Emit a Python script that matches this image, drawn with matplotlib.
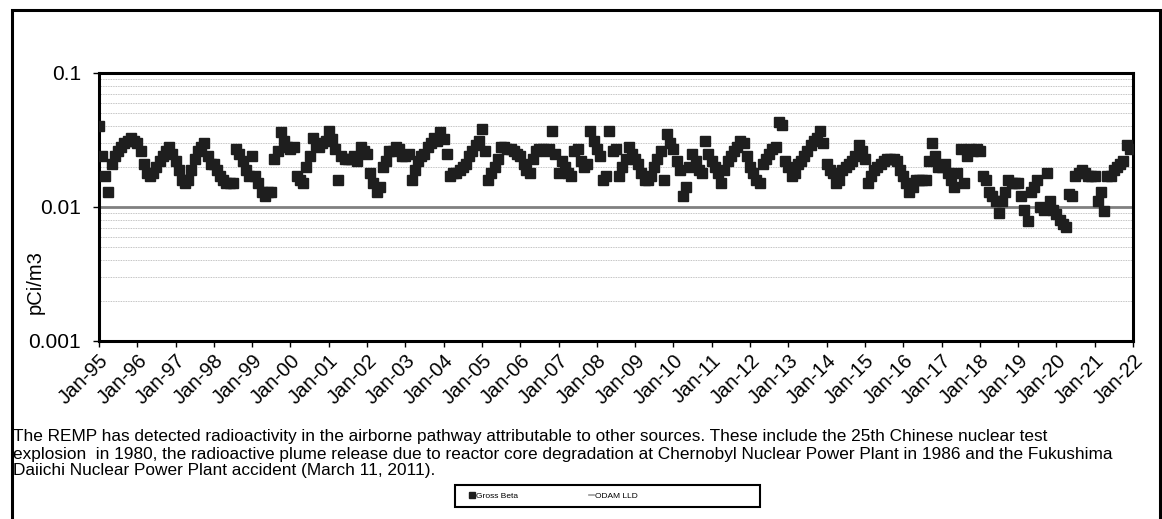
import numpy as np
import pandas as pd
import matplotlib
matplotlib.use('Agg')
import matplotlib.pyplot as plt
import matplotlib.dates as mdates
from matplotlib.ticker import LogLocator, FixedLocator, FuncFormatter
from matplotlib.lines import Line2D
from matplotlib.patches import Rectangle

plt.rcParams['font.family'] = ['Liberation Sans', 'DejaVu Sans']

# monthly gross beta (pCi/m3), Jan-1995 .. Dec-2021
y1995 = [0.040, 0.024, 0.017, 0.013, 0.021, 0.024, 0.026, 0.028, 0.030, 0.031, 0.033, 0.031]
y1996 = [0.030, 0.026, 0.021, 0.018, 0.017, 0.018, 0.020, 0.022, 0.024, 0.026, 0.028, 0.025]
y1997 = [0.022, 0.019, 0.016, 0.015, 0.016, 0.019, 0.023, 0.026, 0.028, 0.030, 0.024, 0.021]
y1998 = [0.021, 0.019, 0.017, 0.016, 0.015, 0.015, 0.015, 0.027, 0.025, 0.022, 0.019, 0.017]
y1999 = [0.024, 0.017, 0.015, 0.013, 0.012, 0.013, 0.013, 0.023, 0.026, 0.036, 0.031, 0.028]
y2000 = [0.027, 0.028, 0.017, 0.016, 0.015, 0.020, 0.024, 0.033, 0.029, 0.028, 0.030, 0.031]
y2001 = [0.037, 0.032, 0.027, 0.016, 0.024, 0.023, 0.023, 0.023, 0.024, 0.022, 0.028, 0.026]
y2002 = [0.025, 0.018, 0.015, 0.013, 0.014, 0.020, 0.022, 0.026, 0.026, 0.028, 0.027, 0.024]
y2003 = [0.024, 0.025, 0.016, 0.019, 0.022, 0.024, 0.025, 0.028, 0.030, 0.033, 0.031, 0.036]
y2004 = [0.032, 0.025, 0.017, 0.018, 0.018, 0.019, 0.020, 0.021, 0.024, 0.026, 0.029, 0.031]
y2005 = [0.038, 0.026, 0.016, 0.018, 0.020, 0.023, 0.028, 0.028, 0.027, 0.027, 0.026, 0.025]
y2006 = [0.024, 0.021, 0.019, 0.018, 0.023, 0.026, 0.027, 0.027, 0.026, 0.027, 0.037, 0.025]
y2007 = [0.018, 0.022, 0.020, 0.018, 0.017, 0.026, 0.027, 0.022, 0.020, 0.021, 0.037, 0.031]
y2008 = [0.027, 0.024, 0.016, 0.017, 0.037, 0.026, 0.027, 0.017, 0.020, 0.023, 0.028, 0.025]
y2009 = [0.023, 0.021, 0.018, 0.016, 0.016, 0.017, 0.020, 0.023, 0.026, 0.016, 0.035, 0.030]
y2010 = [0.027, 0.022, 0.019, 0.012, 0.014, 0.020, 0.025, 0.022, 0.019, 0.018, 0.031, 0.025]
y2011 = [0.022, 0.020, 0.018, 0.015, 0.019, 0.022, 0.024, 0.026, 0.028, 0.031, 0.030, 0.024]
y2012 = [0.020, 0.018, 0.016, 0.015, 0.021, 0.023, 0.025, 0.027, 0.028, 0.043, 0.041, 0.022]
y2013 = [0.020, 0.017, 0.018, 0.021, 0.022, 0.024, 0.026, 0.029, 0.031, 0.033, 0.037, 0.030]
y2014 = [0.021, 0.019, 0.018, 0.015, 0.016, 0.019, 0.020, 0.021, 0.022, 0.024, 0.029, 0.026]
y2015 = [0.023, 0.015, 0.017, 0.019, 0.020, 0.021, 0.022, 0.023, 0.023, 0.023, 0.022, 0.019]
y2016 = [0.017, 0.015, 0.013, 0.014, 0.016, 0.016, 0.016, 0.016, 0.022, 0.030, 0.024, 0.020]
y2017 = [0.020, 0.021, 0.018, 0.016, 0.014, 0.018, 0.027, 0.015, 0.024, 0.027, 0.026, 0.027]
y2018 = [0.026, 0.017, 0.016, 0.013, 0.012, 0.011, 0.0090, 0.011, 0.013, 0.016, 0.015, 0.015]
y2019 = [0.015, 0.012, 0.0095, 0.0078, 0.013, 0.014, 0.016, 0.010, 0.0095, 0.018, 0.011, 0.0095]
y2020 = [0.0088, 0.0080, 0.0075, 0.0071, 0.0125, 0.012, 0.017, 0.018, 0.019, 0.018, 0.017, 0.017]
y2021 = [0.017, 0.011, 0.013, 0.0093, 0.017, 0.017, 0.019, 0.020, 0.021, 0.022, 0.029, 0.027]

gross_beta = (y1995 + y1996 + y1997 + y1998 + y1999 + y2000 + y2001 + y2002 + y2003
              + y2004 + y2005 + y2006 + y2007 + y2008 + y2009 + y2010 + y2011 + y2012
              + y2013 + y2014 + y2015 + y2016 + y2017 + y2018 + y2019 + y2020 + y2021)
dates = pd.date_range('1995-01-01', periods=len(gross_beta), freq='MS')
odam_lld = 0.01
tick_years = list(range(1995, 2023))

caption = ["The REMP has detected radioactivity in the airborne pathway attributable to other sources. These include the 25th Chinese nuclear test",
           "explosion  in 1980, the radioactive plume release due to reactor core degradation at Chernobyl Nuclear Power Plant in 1986 and the Fukushima",
           "Daiichi Nuclear Power Plant accident (March 11, 2011)."]

W, H = 1162, 519
fig = plt.figure(figsize=(W / 100, H / 100), dpi=100)
ax = fig.add_axes([99 / W, 1 - 341 / H, (1133 - 99) / W, (341 - 73) / H])

ax.set_yscale('log')
ax.set_ylim(0.001, 0.1)
ax.set_xlim(pd.Timestamp('1995-01-01'), pd.Timestamp('2022-01-01'))

ax.yaxis.set_major_locator(FixedLocator([0.001, 0.01, 0.1]))
ax.yaxis.set_major_formatter(FuncFormatter(lambda v, p: '%g' % v))
ax.yaxis.set_minor_locator(LogLocator(base=10, subs=np.arange(2, 10)))
ax.yaxis.set_minor_formatter(FuncFormatter(lambda v, p: ''))
ax.grid(True, which='minor', axis='y', color='#b0b0b0', lw=0.6, ls=(0, (1, 1)))
ax.tick_params(axis='y', which='minor', length=0)

ax.xaxis.set_major_locator(FixedLocator(mdates.date2num([pd.Timestamp(f'{y}-01-01') for y in tick_years])))
ax.xaxis.set_major_formatter(mdates.DateFormatter('%b-%y'))
ax.tick_params(axis='x', which='major', length=4, width=1, pad=3, labelsize=14.5)
ax.tick_params(axis='y', which='major', length=4, width=1, pad=9, labelsize=15)
for lab in ax.get_xticklabels():
    lab.set_rotation(45)
    lab.set_ha('right')
    lab.set_rotation_mode('anchor')

for s in ax.spines.values():
    s.set_linewidth(2.2)

ax.axhline(odam_lld, color='#808080', lw=2.0, zorder=2)
ax.plot(dates, gross_beta, ls='none', marker='s', ms=6.8, color='#1e1e1e', zorder=3)

fig.text(35 / W, 1 - 282 / H, 'pCi/m3', rotation=90, ha='center', va='center', fontsize=14.5)

for i, line in enumerate(caption):
    fig.text(13 / W, 1 - (437 + 17 * i) / H, line, ha='left', va='center', fontsize=12.4)

# legend box (Excel style, wider than its entries)
fig.patches.append(Rectangle((455 / W, 1 - 507 / H), 305 / W, 22 / H,
                             transform=fig.transFigure, fill=False, lw=1.5,
                             edgecolor='black'))
handles = [Line2D([], [], ls='none', marker='s', ms=4, color='#1e1e1e'),
           Line2D([], [], color='#999999', lw=1.2)]
fig.legend(handles, ['Gross Beta', 'ODAM LLD'], loc='center left',
           bbox_to_anchor=(465 / W, 1 - 496 / H), ncol=2, fontsize=6,
           frameon=False, handlelength=0.6, handletextpad=0.2,
           columnspacing=8.5, borderpad=0)

fig.patches.append(Rectangle((12 / W, -0.05), (1160 - 12) / W, 1.05 - 10 / H,
                             transform=fig.transFigure, fill=False, lw=2.2,
                             edgecolor='black', clip_on=False))

fig.savefig('out.png', dpi=100)
